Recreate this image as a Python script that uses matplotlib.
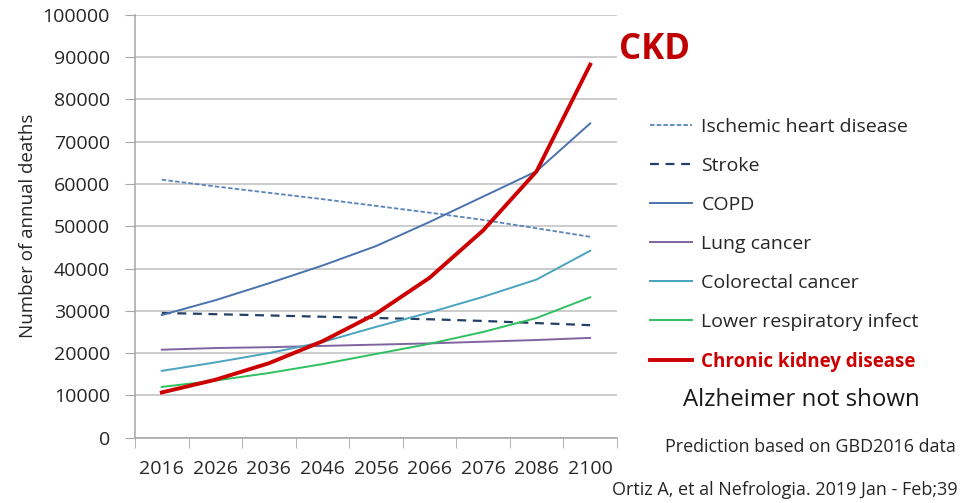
import numpy as np
import matplotlib.pyplot as plt
from matplotlib.ticker import FixedLocator

plt.rcParams['font.family'] = ['Open Sans', 'DejaVu Sans']

# Years on the category axis
years = ['2016', '2026', '2036', '2046', '2056', '2066', '2076', '2086', '2100']

# Annual deaths
ischemic = [61000, 59400, 57900, 56400, 54800, 53200, 51500, 49500, 47500]
stroke = [29500, 29200, 28900, 28600, 28300, 28000, 27600, 27100, 26600]
copd = [29000, 32500, 36500, 40700, 45300, 51000, 57000, 63000, 74300]
lung = [20800, 21200, 21400, 21700, 22000, 22300, 22700, 23100, 23600]
colorectal = [15800, 17800, 20000, 22600, 26200, 29600, 33300, 37400, 44200]
lower_resp = [12000, 13500, 15300, 17400, 19800, 22200, 25000, 28300, 33200]
ckd = [10700, 13700, 17600, 22800, 29300, 37800, 49000, 63000, 88200]

fig = plt.figure(figsize=(9.61, 5.03), dpi=100)
ax = fig.add_axes([0.1405, 0.1298, 0.5015, 0.841])

x = np.arange(len(years))
lines = []
lines += ax.plot(x, ischemic, color='#5b84bd', lw=1.3, ls=(0, (2.5, 1.2)), label='Ischemic heart disease')
lines += ax.plot(x, stroke, color='#243f66', lw=1.6, ls=(0, (4, 3)), label='Stroke')
lines += ax.plot(x, copd, color='#4a72ad', lw=1.4, label='COPD')
lines += ax.plot(x, lung, color='#8064a2', lw=1.4, label='Lung cancer')
lines += ax.plot(x, colorectal, color='#4aa3bf', lw=1.4, label='Colorectal cancer')
lines += ax.plot(x, lower_resp, color='#2fc060', lw=1.4, label='Lower respiratory infect')
lines += ax.plot(x, ckd, color='#cc0000', lw=2.8, label='Chronic kidney disease')

ax.set_xlim(-0.5, len(years) - 0.5)
ax.set_ylim(0, 100000)
ax.set_yticks(np.arange(0, 100001, 10000))
ax.set_yticklabels([str(v) for v in range(0, 100001, 10000)], fontsize=14, color='#262626')
ax.set_xticks(x)
ax.set_xticklabels(years, fontsize=14, color='#262626')
ax.xaxis.set_minor_locator(FixedLocator(np.arange(-0.5, len(years), 1.0)))
ax.tick_params(axis='x', which='major', length=0, pad=16)
ax.tick_params(axis='x', which='minor', length=7, color='#a6a6a6')
ax.tick_params(axis='y', length=7, color='#a6a6a6', pad=11)

ax.grid(axis='y', color='#bfbfbf', lw=1.1)
ax.set_axisbelow(True)
for s in ['top', 'right']:
    ax.spines[s].set_visible(False)
for s in ['left', 'bottom']:
    ax.spines[s].set_color('#a6a6a6')
    ax.spines[s].set_linewidth(1.1)

ax.set_ylabel('Number of annual deaths', fontsize=13.5, color='#262626', labelpad=4)

leg = fig.legend(handles=lines, loc='upper left', bbox_to_anchor=(0.658, 0.801),
                 frameon=False, fontsize=14, handlelength=2.15, handletextpad=0.5,
                 labelspacing=1.08)
for t in leg.get_texts():
    t.set_color('#262626')
ckd_text = leg.get_texts()[-1]
ckd_text.set_color('#cc0000')
ckd_text.set_fontweight('bold')
ckd_text.set_fontsize(13.5)

fig.text(0.644, 0.90, 'CKD', fontsize=25, fontweight='bold', color='#c00000', va='center')
fig.text(0.711, 0.205, 'Alzheimer not shown', fontsize=17.3, color='#1a1a1a', va='center')
fig.text(0.692, 0.111, 'Prediction based on GBD2016 data', fontsize=12.9, color='#262626', va='center')
fig.text(0.997, 0.025, 'Ortiz A, et al Nefrologia. 2019 Jan - Feb;39', fontsize=13, color='#262626',
         va='center', ha='right')

fig.savefig('out.png', dpi=100)
